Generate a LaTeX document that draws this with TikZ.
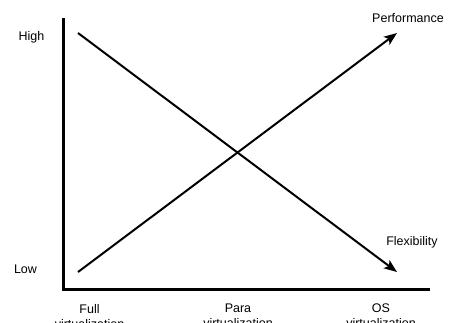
\documentclass[tikz,border=0pt]{standalone}
\usepackage{fontspec}
\setmainfont{Liberation Sans}
\usetikzlibrary{arrows.meta}
\begin{document}
\begin{tikzpicture}[x=1pt,y=-1pt,
  axis/.style={line width=3pt},
  trend/.style={line width=2pt,-{Stealth[length=13pt,width=10pt,inset=3pt]}},
  lbl/.style={font=\fontsize{12.5}{15}\selectfont,inner sep=0pt,align=center}]
  \useasboundingbox (0,0) rectangle (453,322);
  % axes
  \coordinate (top) at (63,18);
  \coordinate (origin) at (63,289);
  \coordinate (right) at (430,289);
  \draw[axis] (top) -- (origin) -- (right);
  % trend lines
  \coordinate (pstart) at (78,272);
  \coordinate (pend) at (397,33);
  \coordinate (fstart) at (78,33);
  \coordinate (fend) at (397,272);
  \draw[trend] (pstart) -- (pend);
  \draw[trend] (fstart) -- (fend);
  % labels
  \node[lbl] (high) at (31.5,37) {High};
  \node[lbl] (low) at (25.5,269) {Low};
  \node[lbl] (perf) at (408,18.5) {Performance};
  \node[lbl] (flex) at (412,242) {Flexibility};
  \node[lbl,anchor=north] (full) at (89.5,304) {Full\\virtualization};
  \node[lbl,anchor=north] (para) at (238,304) {Para\\virtualization};
  \node[lbl,anchor=north] (os) at (381,304) {OS\\virtualization};
\end{tikzpicture}
\end{document}
